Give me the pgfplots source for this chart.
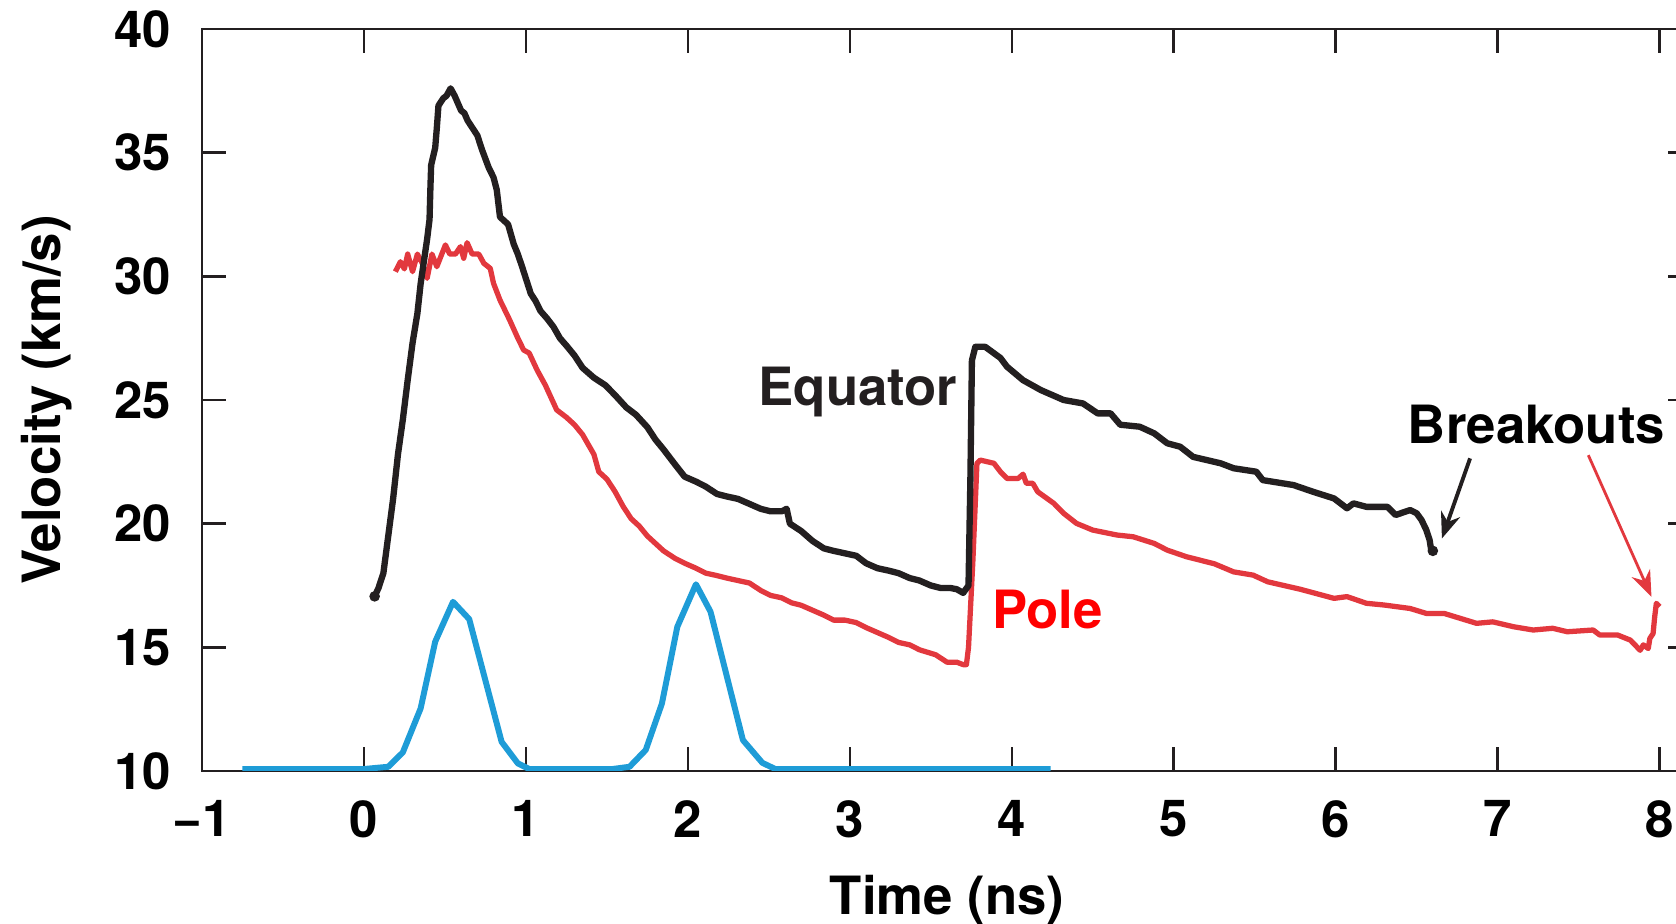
\documentclass[border=0pt]{standalone}
\usepackage{pgfplots}
\pgfplotsset{compat=1.18}
\usepackage{fontspec}
\setmainfont{TeX Gyre Heros}
\usetikzlibrary{arrows.meta}
\definecolor{eqblack}{RGB}{35,31,32}
\definecolor{polered}{RGB}{226,56,62}
\definecolor{laserblue}{RGB}{30,156,215}
\definecolor{labelred}{RGB}{255,0,0}

\pgfplotstableread{
x y
0.066 17.06
0.09 17.4
0.12 18.0
0.15 19.5
0.18 21.0
0.21 22.8
0.24 24.2
0.27 25.8
0.30 27.3
0.33 28.5
0.35 29.7
0.37 30.6
0.39 31.5
0.405 32.3
0.41 33.5
0.415 34.5
0.44 35.2
0.45 36.0
0.46 36.9
0.49 37.2
0.51 37.3
0.535 37.6
0.56 37.3
0.60 36.7
0.62 36.6
0.64 36.3
0.68 35.9
0.70 35.7
0.73 35.1
0.77 34.4
0.80 34.0
0.82 33.5
0.84 32.4
0.89 32.1
0.925 31.3
0.95 30.9
0.976 30.4
1.03 29.3
1.06 29.0
1.09 28.6
1.13 28.3
1.17 27.96
1.21 27.5
1.25 27.2
1.30 26.8
1.35 26.3
1.42 25.9
1.49 25.6
1.55 25.2
1.62 24.7
1.68 24.4
1.75 23.9
1.80 23.4
1.85 23.0
1.92 22.4
1.98 21.9
2.05 21.7
2.11 21.5
2.18 21.2
2.24 21.1
2.31 21.0
2.38 20.8
2.45 20.6
2.51 20.5
2.58 20.5
2.61 20.6
2.63 20.0
2.70 19.7
2.77 19.3
2.84 19.0
2.90 18.9
2.97 18.8
3.04 18.7
3.10 18.4
3.17 18.2
3.24 18.1
3.30 18.0
3.37 17.8
3.43 17.7
3.50 17.5
3.56 17.4
3.62 17.4
3.66 17.35
3.70 17.2
3.733 17.5
3.745 22.0
3.754 26.6
3.775 27.15
3.836 27.15
3.93 26.7
3.97 26.35
4.07 25.8
4.18 25.4
4.32 25.0
4.44 24.86
4.53 24.46
4.61 24.46
4.67 24.0
4.79 23.92
4.88 23.65
4.96 23.25
5.04 23.11
5.12 22.7
5.29 22.44
5.37 22.24
5.51 22.1
5.55 21.76
5.74 21.56
5.86 21.29
5.99 21.02
6.07 20.62
6.11 20.82
6.19 20.68
6.32 20.68
6.37 20.35
6.46 20.55
6.50 20.42
6.53 20.15
6.56 19.74
6.58 19.34
6.59 18.93
6.60 18.9
}\equator

\pgfplotstableread{
x y
0.194 30.19
0.225 30.59
0.25 30.3
0.27 30.9
0.30 30.19
0.33 30.9
0.36 30.53
0.39 29.92
0.42 30.9
0.45 30.39
0.503 31.27
0.53 30.9
0.565 30.9
0.596 31.2
0.616 30.73
0.637 31.36
0.668 30.9
0.709 30.9
0.74 30.53
0.78 30.32
0.80 29.72
0.84 29.04
0.90 28.23
0.946 27.56
0.986 27.02
1.02 26.9
1.07 26.2
1.12 25.6
1.19 24.6
1.25 24.3
1.30 24.0
1.35 23.6
1.42 22.8
1.45 22.1
1.50 21.8
1.55 21.3
1.60 20.7
1.65 20.2
1.70 19.9
1.75 19.5
1.80 19.2
1.85 18.9
1.92 18.6
1.98 18.4
2.05 18.2
2.11 18.0
2.18 17.9
2.24 17.8
2.31 17.7
2.38 17.6
2.45 17.3
2.51 17.1
2.58 17.0
2.64 16.8
2.70 16.7
2.77 16.5
2.84 16.3
2.90 16.1
2.97 16.1
3.04 16.0
3.10 15.8
3.17 15.6
3.24 15.4
3.30 15.2
3.37 15.1
3.43 14.9
3.53 14.7
3.60 14.4
3.66 14.4
3.70 14.3
3.72 14.3
3.733 15.0
3.76 18.5
3.785 22.44
3.806 22.57
3.89 22.44
3.93 22.1
3.97 21.83
4.04 21.83
4.07 22.0
4.09 21.63
4.13 21.63
4.16 21.29
4.26 20.82
4.32 20.42
4.40 20.01
4.50 19.74
4.65 19.54
4.75 19.47
4.88 19.2
4.96 18.93
5.08 18.66
5.25 18.38
5.37 18.05
5.49 17.92
5.58 17.65
5.78 17.35
5.99 16.98
6.07 17.05
6.19 16.78
6.30 16.71
6.46 16.57
6.56 16.37
6.67 16.37
6.77 16.17
6.87 15.97
6.97 16.03
7.10 15.83
7.22 15.70
7.34 15.77
7.43 15.63
7.59 15.70
7.63 15.5
7.74 15.5
7.82 15.29
7.88 14.88
7.90 15.1
7.93 14.95
7.94 15.36
7.96 15.56
7.97 16.24
7.98 16.78
8.00 16.64
}\pole

\pgfplotstableread{
x y
-0.75 10.08
0.0 10.08
0.15 10.17
0.24 10.75
0.35 12.53
0.44 15.23
0.55 16.84
0.65 16.14
0.85 11.18
0.95 10.31
1.02 10.08
1.535 10.08
1.64 10.17
1.74 10.85
1.84 12.73
1.935 15.83
2.05 17.55
2.14 16.44
2.34 11.25
2.46 10.33
2.54 10.08
4.24 10.08
}\laser

\pgfplotstableread{
x y
0.066 17.06
6.60 18.9
}\ends

\begin{document}
\begin{tikzpicture}
\begin{axis}[
  scale only axis, width=149mm, height=74.2mm,
  xmin=-1, xmax=8.2, ymin=10, ymax=40,
  xtick={-1,0,...,8}, xticklabels={−1,0,1,2,3,4,5,6,7,8},
  ytick={10,15,...,40},
  /pgf/number format/assume math mode=true,
  tick align=inside,
  major tick length=2.4mm,
  axis line style={eqblack, line width=0.7pt},
  every tick/.style={eqblack, line width=0.7pt},
  tick label style={font=\bfseries\fontsize{14.5}{17}\selectfont, inner sep=0pt},
  xticklabel style={anchor=north, yshift=-2.9mm},
  yticklabel style={anchor=east, xshift=-3mm},
  xlabel={Time (ns)}, ylabel={Velocity (km/s)},
  label style={font=\bfseries\fontsize{15}{18}\selectfont, inner sep=0pt},
  xlabel style={at={(axis description cs:0.5,-0.139)}, anchor=north},
  ylabel style={at={(axis description cs:-0.0866,0.5)}, anchor=south},
]
\addplot[laserblue, line width=1.7pt, line join=round] table {\laser};
\addplot[polered, line width=1.5pt, line join=round] table {\pole};
\addplot[eqblack, line width=1.8pt, line join=round] table {\equator};
\addplot[only marks, mark=*, mark size=1.3pt, eqblack] table {\ends};

\node[font=\bfseries\fontsize{15}{18}\selectfont, text=eqblack, anchor=base, inner sep=0pt] at (axis cs:3.05,24.76) {Equator};
\node[font=\bfseries\fontsize{15}{18}\selectfont, text=labelred, anchor=base, inner sep=0pt] at (axis cs:4.22,15.76) {Pole};
\node[font=\bfseries\fontsize{15}{18}\selectfont, text=black, anchor=base, inner sep=0pt] at (axis cs:7.24,23.24) {Breakouts};
\draw[eqblack, line width=1.1pt, -{Stealth[length=2.6mm,width=2mm]}] (axis cs:6.83,22.64) -- (axis cs:6.656,19.40);
\draw[polered, line width=0.8pt, -{Stealth[length=2.6mm,width=2mm]}] (axis cs:7.56,22.77) -- (axis cs:7.95,17.04);

\coordinate (bl) at (rel axis cs:0,0);
\coordinate (tl) at (rel axis cs:0,1);
\end{axis}
\pgfresetboundingbox
\path[use as bounding box] ([shift={(-20.2mm,-15.3mm)}]bl) rectangle ([shift={(147.4mm,2.9mm)}]tl);
\end{tikzpicture}
\end{document}
